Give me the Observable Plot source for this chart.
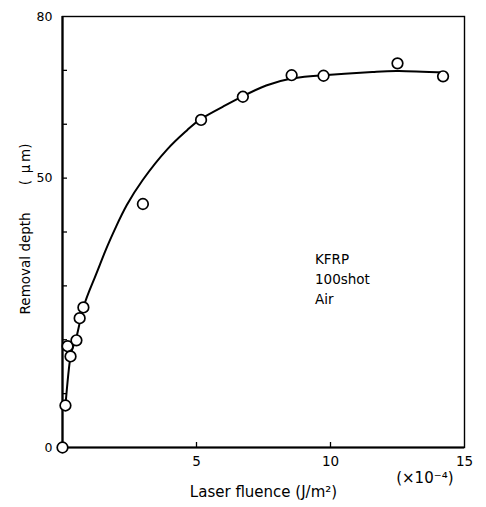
<!DOCTYPE html>
<html>
<head>
<meta charset="utf-8">
<script src="https://cdn.jsdelivr.net/npm/d3@7"></script>
<script src="https://cdn.jsdelivr.net/npm/@observablehq/plot@0.6"></script>
<style>
  html, body { margin: 0; padding: 0; background: white; }
</style>
</head>
<body>
<div id="chart"></div>
<script>
// Measured points: laser fluence (x10^-4 J/m^2) vs removal depth (um)
const fluence = [0, 0.11, 0.19, 0.30, 0.52, 0.64, 0.78, 3.0, 5.17, 6.73, 8.55, 9.74, 12.5, 14.2];
const depth   = [0, 7.8, 18.8, 16.9, 19.9, 24.0, 26.0, 45.2, 60.8, 65.1, 69.1, 69.0, 71.3, 68.9];

// Fitted curve
const curveX = [0.11, 0.30, 0.52, 0.78, 1.2, 1.6, 2.0, 2.4, 3.0, 3.9, 4.65, 5.17, 6.0, 6.73, 7.6, 8.55, 9.74, 11.56, 12.56, 14.3];
const curveY = [7.8, 16.9, 20.5, 26.0, 31.5, 36.5, 41.0, 45.0, 49.7, 55.3, 58.9, 61.0, 63.3, 65.2, 67.2, 68.5, 69.1, 69.7, 69.9, 69.6];

// Axis ticks and labels
const xTickMarks = [5, 10];
const xTickLabels = [5, 10, 15];
const yTickMarks = [10, 20, 30, 40, 50, 60, 70];
const yTickLabels = [0, 50, 80];

const xTitle = "Laser fluence (J/m²)";
const yTitle = "Removal depth\u2003\u2003(\u2002μ\u2009m)";
const xUnit = "(×10⁻⁴)";
const annotLines = ["KFRP", "100shot", "Air"];
const annotAt = {x: 9.42, y: 31.6};

const points = fluence.map((x, i) => ({x, y: depth[i]}));
const curve = curveX.map((x, i) => ({x, y: curveY[i]}));

const W = 486, H = 507, mL = 62, mR = 22, mT = 16, mB = 60;
const tickLen = 5;

const chart = Plot.plot({
  width: W,
  height: H,
  marginLeft: mL,
  marginRight: mR,
  marginTop: mT,
  marginBottom: mB,
  style: {fontFamily: "DejaVu Sans", fontSize: "13px", background: "white", color: "black"},
  x: {domain: [0, 15], axis: null},
  y: {domain: [0, 80], axis: null},
  marks: [
    Plot.frame({stroke: "black", strokeWidth: 1.4}),
    Plot.ruleX([0], {stroke: "black", strokeWidth: 2.2}),
    Plot.ruleY([0], {stroke: "black", strokeWidth: 2.2}),
    // inward tick marks
    Plot.ruleX(xTickMarks, {stroke: "black", strokeWidth: 1.3, insetTop: (H - mT - mB) - tickLen}),
    Plot.ruleY(yTickMarks, {stroke: "black", strokeWidth: 1.3, insetRight: (W - mL - mR) - tickLen}),
    // tick labels
    Plot.text(xTickLabels, {x: d => d, frameAnchor: "bottom", textAnchor: "middle", dy: 18, fontSize: 13.5}),
    Plot.text(yTickLabels, {y: d => d, frameAnchor: "left", textAnchor: "end", dx: -10, fontSize: 12.5}),
    Plot.line(curve, {x: "x", y: "y", curve: "natural", stroke: "black", strokeWidth: 2}),
    Plot.dot(points, {x: "x", y: "y", r: 5.3, fill: "white", stroke: "black", strokeWidth: 1.7}),
    Plot.text([annotLines.join("\n")], {x: () => annotAt.x, y: () => annotAt.y, textAnchor: "start", lineHeight: 1.48, fontSize: 13.5}),
    Plot.text([xTitle], {frameAnchor: "bottom", textAnchor: "middle", dy: 49, fontSize: 15}),
    Plot.text([yTitle], {frameAnchor: "left", textAnchor: "middle", dx: -37, dy: -3, rotate: -90, fontSize: 13.5}),
    Plot.text([xUnit], {frameAnchor: "bottom-right", textAnchor: "end", dx: -11, dy: 35, fontSize: 15})
  ]
});
document.getElementById("chart").appendChild(chart);
</script>
</body>
</html>
